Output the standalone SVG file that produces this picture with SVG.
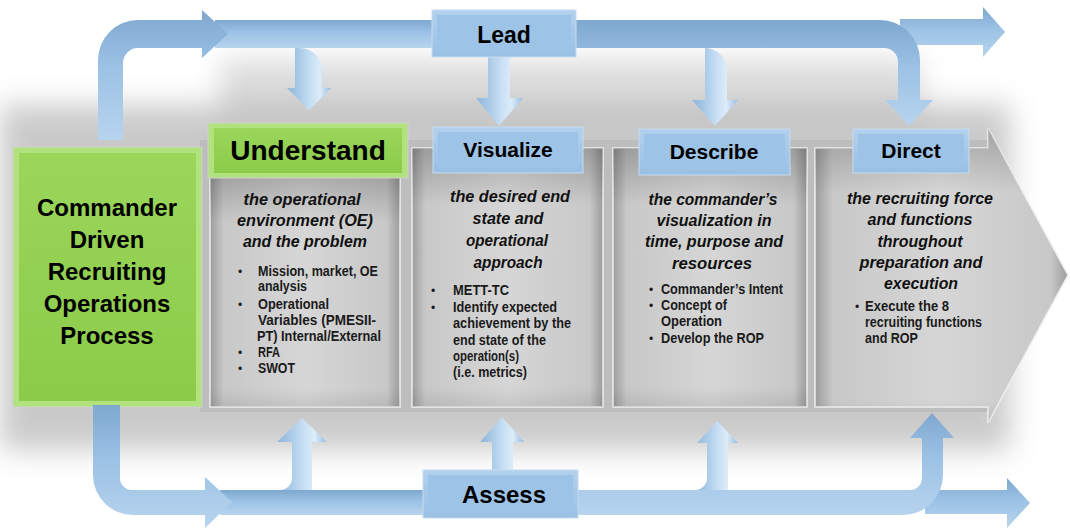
<svg xmlns="http://www.w3.org/2000/svg" width="1070" height="529" viewBox="0 0 1070 529">
<defs>
  <filter id="blur" x="-20%" y="-40%" width="140%" height="180%"><feGaussianBlur stdDeviation="14"/></filter>
  <filter id="blur2" x="-20%" y="-50%" width="140%" height="200%"><feGaussianBlur stdDeviation="6"/></filter>
  <linearGradient id="hbar" x1="0" y1="0" x2="0" y2="1">
    <stop offset="0" stop-color="#7fa8cf"/>
    <stop offset="0.45" stop-color="#9cc2e5"/>
    <stop offset="1" stop-color="#b7d4ee"/>
  </linearGradient>
  <linearGradient id="vbar" x1="0" y1="0" x2="1" y2="0">
    <stop offset="0" stop-color="#8cb4da"/>
    <stop offset="0.55" stop-color="#c9e0f4"/>
    <stop offset="0.75" stop-color="#dcecf9"/>
    <stop offset="1" stop-color="#94bbe0"/>
  </linearGradient>
  <linearGradient id="panel" x1="0" y1="0" x2="1" y2="0">
    <stop offset="0" stop-color="#9c9c9c"/>
    <stop offset="0.07" stop-color="#c8c8c8"/>
    <stop offset="0.5" stop-color="#d6d6d6"/>
    <stop offset="0.93" stop-color="#c8c8c8"/>
    <stop offset="1" stop-color="#9c9c9c"/>
  </linearGradient>
  <linearGradient id="panelTop" x1="0" y1="0" x2="0" y2="1">
    <stop offset="0" stop-color="#000" stop-opacity="0.22"/>
    <stop offset="0.22" stop-color="#000" stop-opacity="0"/>
    <stop offset="0.92" stop-color="#000" stop-opacity="0"/>
    <stop offset="1" stop-color="#000" stop-opacity="0.08"/>
  </linearGradient>
  <linearGradient id="blueBox" x1="0" y1="0" x2="0" y2="1">
    <stop offset="0" stop-color="#b3d1ee"/>
    <stop offset="1" stop-color="#98c0e4"/>
  </linearGradient>
  <linearGradient id="greenBox" x1="0" y1="0" x2="0" y2="1">
    <stop offset="0" stop-color="#9ad65a"/>
    <stop offset="1" stop-color="#8ccb4a"/>
  </linearGradient>
</defs>
<style>
  .bb{fill:url(#blueBox);stroke:#c8dcef;stroke-width:1}
  .bbi{fill:#9dc3e6}
  .gb{fill:#b2e27e;stroke:#d0d0d0;stroke-width:1}
  .gbi{fill:url(#greenBox)}
  .pn{fill:url(#panel);stroke:#f0f0f0;stroke-width:1.5}
  .pt{fill:url(#panelTop)}
  .hb{fill:url(#hbar)}
  .vb{fill:url(#vbar)}
  .lbl{font-family:"Liberation Sans",Arial,sans-serif;font-weight:bold;fill:#000;text-anchor:middle}
  .it{font-family:"Liberation Sans",Arial,sans-serif;font-weight:bold;font-style:italic;font-size:16px;fill:#111;text-anchor:middle}
  .bl{font-family:"Liberation Sans Narrow","Arial Narrow","Liberation Sans",sans-serif;font-weight:bold;font-size:14px;fill:#1a1a1a}
  .dot{font-family:"Liberation Sans",Arial,sans-serif;font-size:12px;fill:#1a1a1a}
</style>

<!-- background shadows -->
<rect x="0" y="105" width="1010" height="345" fill="#8a8a8a" opacity="0.45" filter="url(#blur)"/>
<rect x="220" y="60" width="700" height="60" fill="#9a9a9a" opacity="0.35" filter="url(#blur)"/>
<polygon points="200,140 988,140 988,128 1068,275 988,423 988,412 200,412" fill="#bdbdbd"/>

<g id="commander">
  <rect class="gb" x="13" y="147" width="189" height="260"/>
  <rect class="gbi" x="19" y="153" width="177" height="248"/>
  <text class="lbl" font-size="24" x="107" y="216">Commander</text>
  <text class="lbl" font-size="24" x="107" y="248">Driven</text>
  <text class="lbl" font-size="24" x="107" y="280">Recruiting</text>
  <text class="lbl" font-size="24" x="107" y="312">Operations</text>
  <text class="lbl" font-size="24" x="107" y="344">Process</text>
</g>

<g id="understand">
  <rect class="pn" x="210" y="170" width="190" height="237"/>
  <rect class="pt" x="210" y="170" width="190" height="237"/>
  <rect class="gb" x="208" y="123" width="200" height="55"/>
  <rect class="gbi" x="214" y="128" width="188" height="45"/>
  <text class="lbl" font-size="28" x="308" y="160">Understand</text>
  <text class="it" x="302" y="205" textLength="117" lengthAdjust="spacingAndGlyphs">the operational</text>
  <text class="it" x="305" y="226" textLength="136" lengthAdjust="spacingAndGlyphs">environment (OE)</text>
  <text class="it" x="305" y="247" textLength="124" lengthAdjust="spacingAndGlyphs">and the problem</text>
  <text class="dot" x="238" y="276">•</text>
  <text class="bl" x="258" y="276" textLength="120" lengthAdjust="spacingAndGlyphs">Mission, market, OE</text>
  <text class="bl" x="258" y="291" textLength="49" lengthAdjust="spacingAndGlyphs">analysis</text>
  <text class="dot" x="238" y="309">•</text>
  <text class="bl" x="258" y="309" textLength="71" lengthAdjust="spacingAndGlyphs">Operational</text>
  <text class="bl" x="258" y="325" textLength="118" lengthAdjust="spacingAndGlyphs">Variables (PMESII-</text>
  <text class="bl" x="257" y="341" textLength="124" lengthAdjust="spacingAndGlyphs">PT) Internal/External</text>
  <text class="dot" x="238" y="357">•</text>
  <text class="bl" x="258" y="357" textLength="22" lengthAdjust="spacingAndGlyphs">RFA</text>
  <text class="dot" x="238" y="373">•</text>
  <text class="bl" x="258" y="373" textLength="37" lengthAdjust="spacingAndGlyphs">SWOT</text>
</g>

<g id="visualize">
  <rect class="pn" x="412" y="148" width="191" height="259"/>
  <rect class="pt" x="412" y="148" width="191" height="259"/>
  <text class="it" x="510" y="202" textLength="120" lengthAdjust="spacingAndGlyphs">the desired end</text>
  <text class="it" x="508" y="224" textLength="71" lengthAdjust="spacingAndGlyphs">state and</text>
  <text class="it" x="507" y="246" textLength="82" lengthAdjust="spacingAndGlyphs">operational</text>
  <text class="it" x="508" y="268" textLength="69" lengthAdjust="spacingAndGlyphs">approach</text>
  <text class="dot" x="431" y="295">•</text>
  <text class="bl" x="453" y="295" textLength="56" lengthAdjust="spacingAndGlyphs">METT-TC</text>
  <text class="dot" x="431" y="312">•</text>
  <text class="bl" x="453" y="312" textLength="104" lengthAdjust="spacingAndGlyphs">Identify expected</text>
  <text class="bl" x="453" y="328" textLength="118" lengthAdjust="spacingAndGlyphs">achievement by the</text>
  <text class="bl" x="453" y="345" textLength="93" lengthAdjust="spacingAndGlyphs">end state of the</text>
  <text class="bl" x="453" y="361" textLength="66" lengthAdjust="spacingAndGlyphs">operation(s)</text>
  <text class="bl" x="453" y="377" textLength="74" lengthAdjust="spacingAndGlyphs">(i.e. metrics)</text>
</g>

<g id="describe">
  <rect class="pn" x="613" y="148" width="194" height="259"/>
  <rect class="pt" x="613" y="148" width="194" height="259"/>
  <text class="it" x="713" y="205" textLength="129" lengthAdjust="spacingAndGlyphs">the commander’s</text>
  <text class="it" x="714" y="226" textLength="115" lengthAdjust="spacingAndGlyphs">visualization in</text>
  <text class="it" x="714" y="247" textLength="138" lengthAdjust="spacingAndGlyphs">time, purpose and</text>
  <text class="it" x="712" y="269" textLength="80" lengthAdjust="spacingAndGlyphs">resources</text>
  <text class="dot" x="649" y="294">•</text>
  <text class="bl" x="661" y="294" textLength="122" lengthAdjust="spacingAndGlyphs">Commander’s Intent</text>
  <text class="dot" x="649" y="310">•</text>
  <text class="bl" x="661" y="310" textLength="66" lengthAdjust="spacingAndGlyphs">Concept of</text>
  <text class="bl" x="661" y="326" textLength="61" lengthAdjust="spacingAndGlyphs">Operation</text>
  <text class="dot" x="649" y="343">•</text>
  <text class="bl" x="661" y="343" textLength="103" lengthAdjust="spacingAndGlyphs">Develop the ROP</text>
</g>

<g id="direct">
  <polygon class="pn" points="815,148 988,148 988,128 1068,275 988,423 988,407 815,407"/>
  <polygon class="pt" points="815,148 988,148 988,128 1068,275 988,423 988,407 815,407"/>
  <text class="it" x="920" y="204" textLength="146" lengthAdjust="spacingAndGlyphs">the recruiting force</text>
  <text class="it" x="920" y="225" textLength="105" lengthAdjust="spacingAndGlyphs">and functions</text>
  <text class="it" x="920" y="247" textLength="85" lengthAdjust="spacingAndGlyphs">throughout</text>
  <text class="it" x="921" y="268" textLength="123" lengthAdjust="spacingAndGlyphs">preparation and</text>
  <text class="it" x="921" y="289" textLength="74" lengthAdjust="spacingAndGlyphs">execution</text>
  <text class="dot" x="855" y="311">•</text>
  <text class="bl" x="865" y="311" textLength="84" lengthAdjust="spacingAndGlyphs">Execute the 8</text>
  <text class="bl" x="865" y="327" textLength="117" lengthAdjust="spacingAndGlyphs">recruiting functions</text>
  <text class="bl" x="865" y="343" textLength="53" lengthAdjust="spacingAndGlyphs">and ROP</text>
</g>

<g id="connectors">
  <!-- top -->
  <path class="vb" d="M295,44 L300,44 L300,48 A22,22 0 0 1 322,70 L322,88 L331,88 L309,110 L287,88 L295,88 Z"/>
  <rect class="hb" x="215" y="20" width="222" height="28"/>
  <path class="hb" d="M98,140 L98,60 A40,40 0 0 1 138,20 L202,20 L202,10 L228,34 L202,58 L202,48 L138,48 A15,15 0 0 0 123,63 L123,140 Z"/>
  <path class="vb" d="M488,55 L510,55 L510,98 L523,98 L499,126 L476,98 L488,98 Z"/>
  <path class="vb" d="M705,44 L705,100 L692,100 L715,126 L738,100 L727,100 L727,70 A22,22 0 0 0 705,48 Z"/>
  <path class="hb" d="M900,19 L983,19 L983,7 L1005,32 L983,57 L983,45 L900,45 Z"/>
  <path class="hb" d="M570,20 L880,20 A40,40 0 0 1 920,60 L920,100 L933,100 L909,126 L885,100 L898,100 L898,62 A14,14 0 0 0 884,48 L570,48 Z"/>
  <!-- bottom -->
  <path class="vb" d="M280,490 A12,12 0 0 0 292,478 L292,442 L277,442 L302,418 L327,442 L312,442 L312,494 L280,494 Z"/>
  <rect class="hb" x="220" y="490" width="210" height="25"/>
  <path class="hb" d="M93,405 L93,475 A40,40 0 0 0 133,515 L205,515 L205,528 L232,502 L205,477 L205,490 L132,490 A12,12 0 0 1 120,478 L120,405 Z"/>
  <path class="vb" d="M492,472 L492,442 L480,442 L502,417 L524,442 L513,442 L513,472 Z"/>
  <path class="vb" d="M695,490 A12,12 0 0 0 707,478 L707,443 L697,443 L717,421 L738,443 L728,443 L728,494 L695,494 Z"/>
  <path class="hb" d="M925,490 L1007,490 L1007,478 L1030,503 L1007,528 L1007,514 L925,514 Z"/>
  <path class="hb" d="M570,490 L910,490 A12,12 0 0 0 922,478 L922,438 L910,438 L932,413 L954,438 L943,438 L943,475 A40,40 0 0 1 903,515 L570,515 Z"/>
</g>

<g id="visualize-label">
  <rect class="bb" x="433" y="127" width="150" height="46"/>
  <rect class="bbi" x="438" y="132" width="140" height="36"/>
  <text class="lbl" font-size="21" x="508" y="157">Visualize</text>
</g>
<g id="describe-label">
  <rect class="bb" x="639" y="129" width="151" height="46"/>
  <rect class="bbi" x="644" y="134" width="141" height="36"/>
  <text class="lbl" font-size="21" x="714" y="159">Describe</text>
</g>
<g id="direct-label">
  <rect class="bb" x="853" y="129" width="116" height="44"/>
  <rect class="bbi" x="858" y="134" width="106" height="34"/>
  <text class="lbl" font-size="21" x="911" y="158">Direct</text>
</g>
<g id="lead">
  <rect class="bb" x="432" y="10" width="144" height="47"/>
  <rect class="bbi" x="437" y="15" width="134" height="37"/>
  <text class="lbl" font-size="23" x="504" y="43">Lead</text>
</g>
<g id="assess">
  <rect class="bb" x="423" y="470" width="155" height="48"/>
  <rect class="bbi" x="428" y="475" width="145" height="38"/>
  <text class="lbl" font-size="24" x="504" y="503">Assess</text>
</g>
</svg>
